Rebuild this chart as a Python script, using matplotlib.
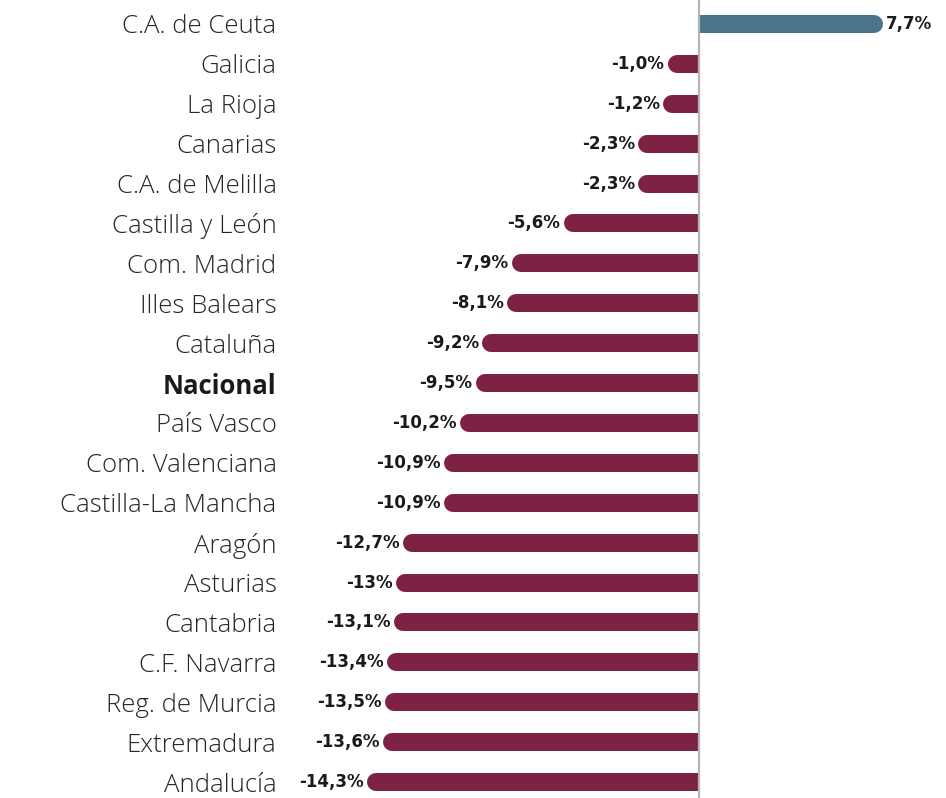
import matplotlib.pyplot as plt
from matplotlib.patches import Rectangle

regions = ['C.A. de Ceuta', 'Galicia', 'La Rioja', 'Canarias', 'C.A. de Melilla',
           'Castilla y León', 'Com. Madrid', 'Illes Balears', 'Cataluña', 'Nacional',
           'País Vasco', 'Com. Valenciana', 'Castilla-La Mancha', 'Aragón', 'Asturias',
           'Cantabria', 'C.F. Navarra', 'Reg. de Murcia', 'Extremadura', 'Andalucía']
values = [7.7, -1.0, -1.2, -2.3, -2.3, -5.6, -7.9, -8.1, -9.2, -9.5,
          -10.2, -10.9, -10.9, -12.7, -13.0, -13.1, -13.4, -13.5, -13.6, -14.3]
value_labels = ['7,7%', '-1,0%', '-1,2%', '-2,3%', '-2,3%', '-5,6%', '-7,9%', '-8,1%',
                '-9,2%', '-9,5%', '-10,2%', '-10,9%', '-10,9%', '-12,7%', '-13%',
                '-13,1%', '-13,4%', '-13,5%', '-13,6%', '-14,3%']

pos_color = '#4a7489'
neg_color = '#7d2245'

fig = plt.figure(figsize=(9.46, 7.98), dpi=100)
ax = fig.add_axes([290 / 946, 0, 656 / 946, 1])

n = len(regions)
ys = list(range(n))
ax.set_ylim(n - 0.6, -0.6)
ax.set_xlim(-18.1, 10.9)

lw = 18 * 72 / 100  # bar thickness in points
for y, v, lab in zip(ys, values, value_labels):
    color = pos_color if v > 0 else neg_color
    line, = ax.plot([0, v], [y, y], color=color, lw=lw, solid_capstyle='round', zorder=2)
    # clip away the round cap at the zero side
    if v > 0:
        clip = Rectangle((0, -5), 100, 100, transform=ax.transData)
    else:
        clip = Rectangle((-100, -5), 100, 100, transform=ax.transData)
    line.set_clip_path(clip)
    off = 12.5 if v > 0 else -12.5
    ax.annotate(lab, xy=(v, y), xytext=(off * 0.72, 0), textcoords='offset points',
                ha='left' if v > 0 else 'right', va='center', fontsize=12,
                fontweight='bold', color='#1a1a1a', family='DejaVu Sans')

ax.axvline(0, color='#b5b5b5', lw=1.6, zorder=3)

ax.set_yticks(ys)
ax.set_yticklabels(regions, fontsize=18.5, color='#262626', family='Open Sans', fontweight='light')
for t in ax.get_yticklabels():
    if t.get_text() == 'Nacional':
        t.set_fontweight('bold')
        t.set_color('#1a1a1a')
ax.tick_params(axis='y', length=0, pad=9.7)
ax.set_xticks([])
for s in ax.spines.values():
    s.set_visible(False)

fig.savefig('out.png', dpi=100)
